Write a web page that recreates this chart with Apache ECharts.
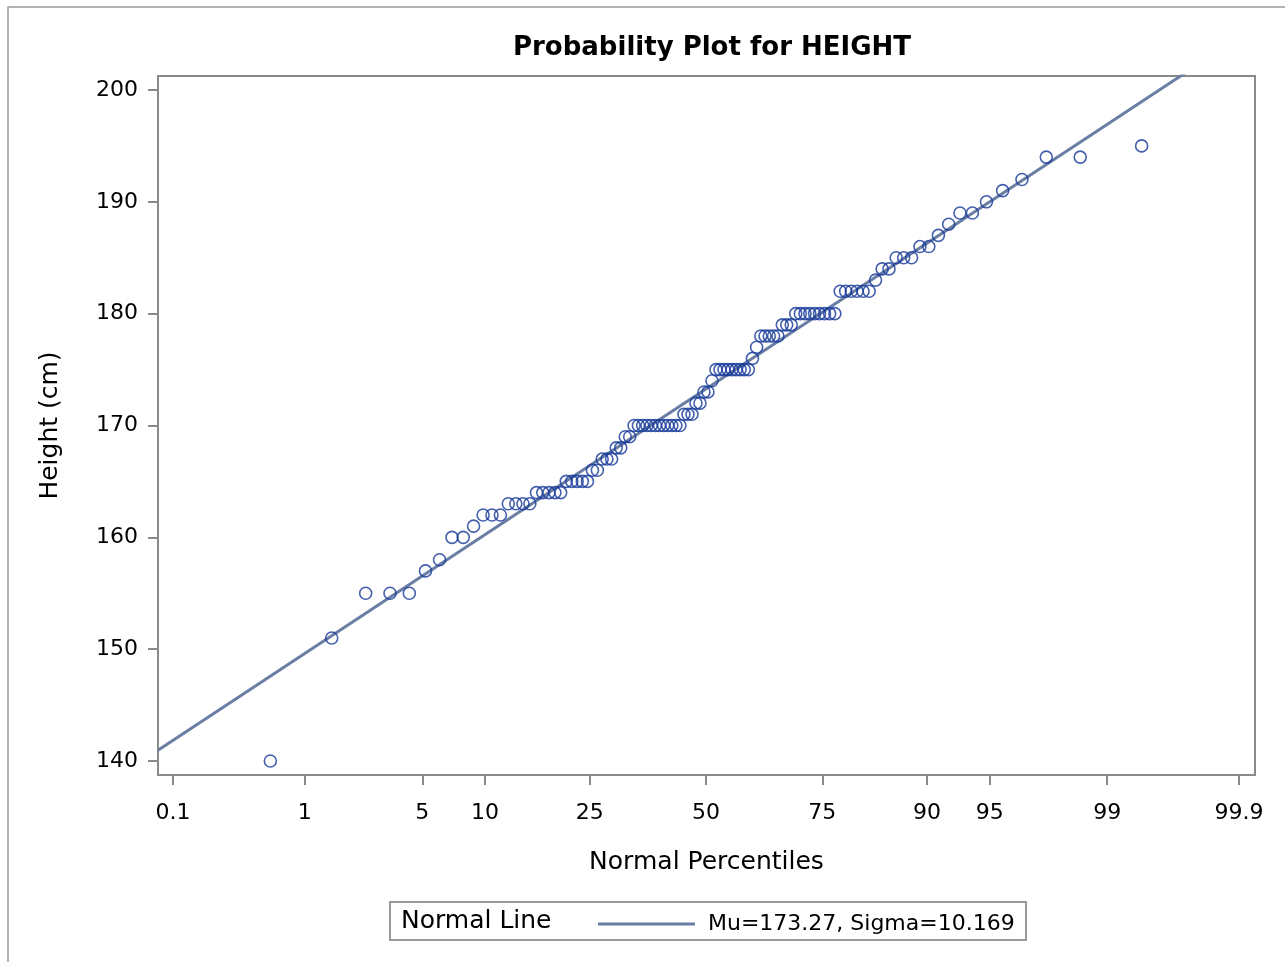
<!DOCTYPE html>
<html>
<head>
<meta charset="utf-8">
<script src="https://cdn.jsdelivr.net/npm/echarts@6/dist/echarts.min.js"></script>
<style>
  html, body { margin: 0; padding: 0; background: #fff; }
  #chart { width: 1285px; height: 962px; }
</style>
</head>
<body>
<div id="chart"></div>
<script>
// sorted heights, stored as distinct levels and how many subjects sit at each
const heightLevels = [140, 151, 155, 157, 158, 160, 161, 162, 163, 164, 165, 166, 167, 168, 169, 170, 171, 172, 173, 174,
  175, 176, 177, 178, 179, 180, 182, 183, 184, 185, 186, 187, 188, 189, 190, 191, 192, 194, 195];
const levelCounts = [1, 1, 3, 1, 1, 2, 1, 3, 4, 5, 5, 2, 3, 2, 2, 12, 3, 2, 2, 1,
  9, 1, 1, 5, 3, 9, 6, 1, 2, 3, 2, 1, 1, 2, 1, 1, 1, 2, 1];
const percentTicks = [0.1, 1, 5, 10, 25, 50, 75, 90, 95, 99, 99.9];
const heightTicks = [140, 150, 160, 170, 180, 190, 200];
const mu = 173.27;
const sigma = 10.169;

const FONT = "DejaVu Sans";
const xMin = -3.177, xMax = 3.183;

// inverse normal cdf (Acklam), turns percentiles into the axis' z scale
function probit(p) {
  const a = [-3.969683028665376e+01, 2.209460984245205e+02, -2.759285104469687e+02, 1.383577518672690e+02, -3.066479806614716e+01, 2.506628277459239e+00];
  const b = [-5.447609879822406e+01, 1.615858368580409e+02, -1.556989798598866e+02, 6.680131188771972e+01, -1.328068155288572e+01];
  const c = [-7.784894002430293e-03, -3.223964580411365e-01, -2.400758277161838e+00, -2.549732188761356e+00, 4.374664141464968e+00, 2.938163982698783e+00];
  const d = [7.784695709041462e-03, 3.224671290700398e-01, 2.445134137142996e+00, 3.754408661907416e+00];
  const lo = 0.02425;
  if (p < lo) {
    const q = Math.sqrt(-2 * Math.log(p));
    return (((((c[0] * q + c[1]) * q + c[2]) * q + c[3]) * q + c[4]) * q + c[5]) / ((((d[0] * q + d[1]) * q + d[2]) * q + d[3]) * q + 1);
  }
  if (p > 1 - lo) return -probit(1 - p);
  const q = p - 0.5, r = q * q;
  return (((((a[0] * r + a[1]) * r + a[2]) * r + a[3]) * r + a[4]) * r + a[5]) * q /
    (((((b[0] * r + b[1]) * r + b[2]) * r + b[3]) * r + b[4]) * r + 1);
}

const heights = [];
heightLevels.forEach((h, i) => { for (let k = 0; k < levelCounts[i]; k++) heights.push(h); });
const n = heights.length;
// Blom plotting positions
const points = heights.map((h, i) => [probit((i + 1 - 0.375) / (n + 0.25)), h]);
const tickZ = percentTicks.map(p => probit(p / 100));
const labelFor = v => {
  let best = 0;
  tickZ.forEach((z, i) => { if (Math.abs(z - v) < Math.abs(tickZ[best] - v)) best = i; });
  return String(percentTicks[best]);
};
const lineName = `Mu=${mu.toFixed(2)}, Sigma=${sigma.toFixed(3)}`;
const frame = "#8a8a8a";

const chart = echarts.init(document.getElementById("chart"));
chart.setOption({
  animation: false,
  textStyle: { fontFamily: FONT },
  title: {
    text: "Probability Plot for HEIGHT",
    left: 707, top: 30, textAlign: "center",
    textStyle: { fontFamily: FONT, fontSize: 26, fontWeight: "bold", color: "#000" },
  },
  grid: { left: 158, top: 76, right: 30, bottom: 187, show: true, borderColor: frame, borderWidth: 2 },
  xAxis: {
    type: "value", min: xMin, max: xMax,
    name: "Normal Percentiles", nameLocation: "middle", nameGap: 75,
    nameTextStyle: { fontFamily: FONT, fontSize: 25, color: "#000" },
    axisLine: { show: true, onZero: false, lineStyle: { color: frame, width: 2 } },
    axisTick: { show: true, length: 10, customValues: tickZ, lineStyle: { color: frame, width: 2 } },
    axisLabel: { customValues: tickZ, formatter: labelFor, margin: 27, fontSize: 22, color: "#000", fontFamily: FONT },
    splitLine: { show: false },
  },
  yAxis: {
    type: "value", min: 138.75, max: 201.25,
    name: "Height (cm)", nameLocation: "middle", nameGap: 95,
    nameTextStyle: { fontFamily: FONT, fontSize: 25, color: "#000" },
    axisLine: { show: true, onZero: false, lineStyle: { color: frame, width: 2 } },
    axisTick: { show: true, length: 10, customValues: heightTicks, lineStyle: { color: frame, width: 2 } },
    axisLabel: { customValues: heightTicks, margin: 20, fontSize: 22, color: "#000", fontFamily: FONT },
    splitLine: { show: false },
  },
  legend: {
    left: 593, top: 908, itemWidth: 97, itemHeight: 3, itemGap: 0,
    data: [{ name: lineName, icon: "rect" }],
    textStyle: { fontFamily: FONT, fontSize: 22, color: "#000", padding: [0, 0, 0, 8] },
  },
  graphic: [
    { type: "rect", shape: { x: 8, y: 7, width: 1290, height: 970 }, style: { fill: "none", stroke: "#9a9a9a", lineWidth: 1.5 }, silent: true },
    { type: "rect", shape: { x: 390, y: 902, width: 636, height: 38 }, style: { fill: "none", stroke: "#9a9a9a", lineWidth: 2 }, silent: true },
    { type: "text", left: 401, top: 909, style: { text: "Normal Line", font: `25px "${FONT}"`, fill: "#000" }, silent: true },
  ],
  series: [
    {
      name: "HEIGHT", type: "scatter", data: points, symbol: "circle", symbolSize: 12,
      itemStyle: { color: "rgba(0,0,0,0)", borderColor: "#17399a", borderWidth: 1.6 },
      z: 3,
    },
    {
      name: lineName, type: "line", symbol: "none", z: 2,
      data: [[xMin, mu + sigma * xMin], [xMax, mu + sigma * xMax]],
      lineStyle: { color: "#6a7ea4", width: 3 },
      itemStyle: { color: "#6a7ea4" },
    },
  ],
});
</script>
</body>
</html>
